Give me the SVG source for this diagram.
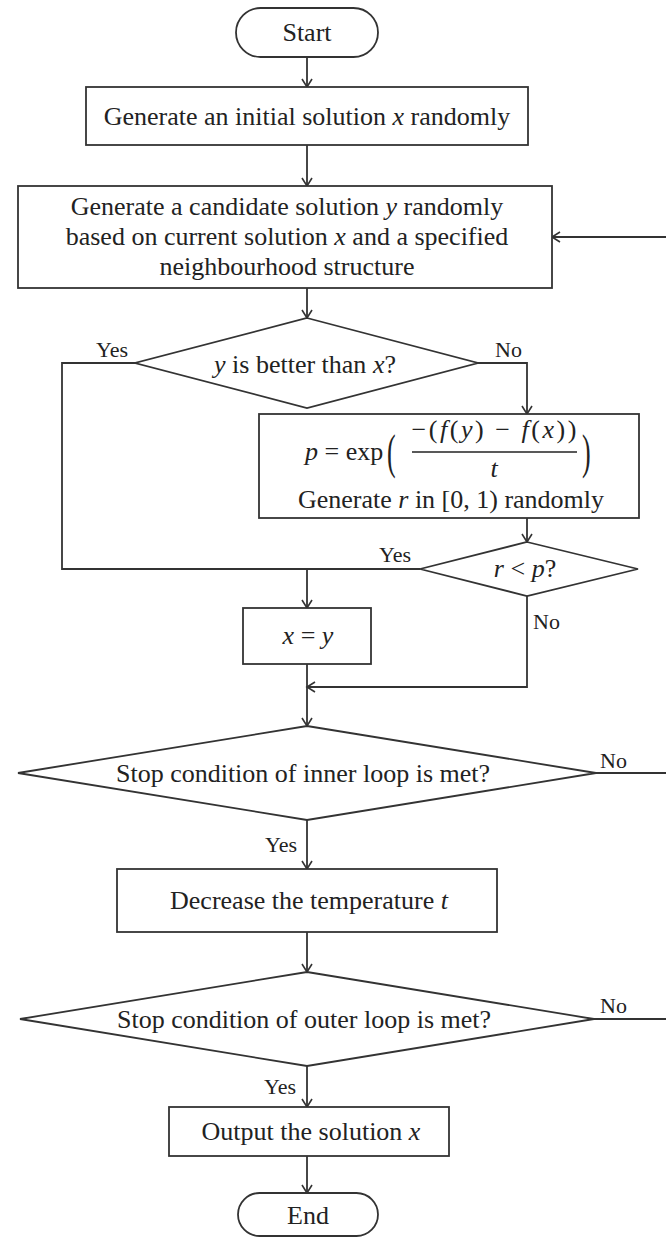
<svg xmlns="http://www.w3.org/2000/svg" width="666" height="1238" viewBox="0 0 666 1238">
<defs>
<marker id="ah" markerUnits="userSpaceOnUse" markerWidth="14" markerHeight="14" refX="9" refY="6" orient="auto">
<path d="M1,1 L9,6 L1,11" fill="none" stroke="#333" stroke-width="1.6"/>
</marker>
<style>
.n{fill:#fff;stroke:#333;stroke-width:1.8}
.c{fill:none;stroke:#333;stroke-width:1.8}
text{font-family:"Liberation Serif","Times New Roman",serif;font-size:26px;fill:#222}
.l{font-size:22px}
.m{text-anchor:middle}
.i{font-style:italic}
</style>
</defs>
<rect width="666" height="1238" fill="#fff"/>
<g id="connectors">
<path class="c" d="M307,57 V87" marker-end="url(#ah)"/>
<path class="c" d="M307,145 V186" marker-end="url(#ah)"/>
<path class="c" d="M307,288 V318" marker-end="url(#ah)"/>
<path class="c" d="M135,363 H62 V569 H420"/>
<path class="c" d="M307,569 V608" marker-end="url(#ah)"/>
<path class="c" d="M478,363 H527 V414" marker-end="url(#ah)"/>
<path class="c" d="M527,518 V542" marker-end="url(#ah)"/>
<path class="c" d="M527,596 V687 H307" marker-end="url(#ah)"/>
<path class="c" d="M307,664 V726" marker-end="url(#ah)"/>
<path class="c" d="M596,773 H668 V237 H552" marker-end="url(#ah)"/>
<path class="c" d="M307,820 V869" marker-end="url(#ah)"/>
<path class="c" d="M307,932 V972" marker-end="url(#ah)"/>
<path class="c" d="M594,1019 H668 V773"/>
<path class="c" d="M307,1066 V1107" marker-end="url(#ah)"/>
<path class="c" d="M307,1156 V1193" marker-end="url(#ah)"/>
<text class="l" x="96" y="357">Yes</text>
<text class="l" x="495" y="357">No</text>
<text class="l" x="379" y="562">Yes</text>
<text class="l" x="533" y="629">No</text>
<text class="l" x="600" y="768">No</text>
<text class="l" x="265" y="852">Yes</text>
<text class="l" x="600" y="1013">No</text>
<text class="l" x="264" y="1094">Yes</text>
</g>
<g id="start">
<rect class="n" x="236" y="8" width="142" height="49" rx="24.5"/>
<text class="m" x="307" y="41">Start</text>
</g>
<g id="init">
<rect class="n" x="86" y="87" width="442" height="58"/>
<text class="m" x="307" y="125">Generate an initial solution <tspan class="i">x</tspan> randomly</text>
</g>
<g id="candidate">
<rect class="n" x="18" y="186" width="534" height="102"/>
<text class="m" x="287" y="215">Generate a candidate solution <tspan class="i">y</tspan> randomly</text>
<text class="m" x="287" y="245">based on current solution <tspan class="i">x</tspan> and a specified</text>
<text class="m" x="287" y="275">neighbourhood structure</text>
</g>
<g id="better">
<polygon class="n" points="307,318 478,363 307,408 135,363"/>
<text class="m" x="305" y="373"><tspan class="i">y</tspan> is better than <tspan class="i">x</tspan>?</text>
</g>
<g id="prob">
<rect class="n" x="259" y="414" width="380" height="104"/>
<text x="305" y="460"><tspan class="i">p</tspan> = exp</text>
<text transform="translate(387,468) scale(1,1.9)">(</text>
<text class="m" x="494" y="438" textLength="165" lengthAdjust="spacing">−(<tspan class="i">f</tspan>(<tspan class="i">y</tspan>) − <tspan class="i">f</tspan>(<tspan class="i">x</tspan>))</text>
<line x1="412" y1="452" x2="577" y2="452" stroke="#222" stroke-width="1.6"/>
<text class="m i" x="494" y="477">t</text>
<text transform="translate(582,468) scale(1,1.9)">)</text>
<text class="m" x="451" y="508">Generate <tspan class="i">r</tspan> in [0, 1) randomly</text>
</g>
<g id="accept">
<polygon class="n" points="527,542 638,569 527,596 420,569"/>
<text class="m" x="525" y="577"><tspan class="i">r</tspan> &lt; <tspan class="i">p</tspan>?</text>
</g>
<g id="assign">
<rect class="n" x="243" y="608" width="128" height="56"/>
<text class="m" x="308" y="644"><tspan class="i">x</tspan> = <tspan class="i">y</tspan></text>
</g>
<g id="inner">
<polygon class="n" points="307,726 596,773 307,820 18,773"/>
<text class="m" x="303" y="782">Stop condition of inner loop is met?</text>
</g>
<g id="decrease">
<rect class="n" x="117" y="869" width="380" height="63"/>
<text class="m" x="309" y="909">Decrease the temperature <tspan class="i">t</tspan></text>
</g>
<g id="outer">
<polygon class="n" points="307,972 594,1019 307,1066 20,1019"/>
<text class="m" x="304" y="1028">Stop condition of outer loop is met?</text>
</g>
<g id="output">
<rect class="n" x="169" y="1107" width="280" height="49"/>
<text class="m" x="311" y="1140">Output the solution <tspan class="i">x</tspan></text>
</g>
<g id="end">
<rect class="n" x="238" y="1193" width="140" height="43" rx="21.5"/>
<text class="m" x="308" y="1224">End</text>
</g>
</svg>
